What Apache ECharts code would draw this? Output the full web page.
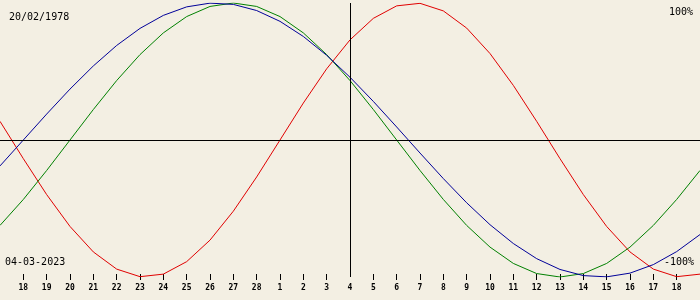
<!DOCTYPE html>
<html><head><meta charset="utf-8">
<script src="https://cdn.jsdelivr.net/npm/echarts@6/dist/echarts.min.js"></script>
<style>html,body{margin:0;padding:0;background:#f3efe3}#c{width:700px;height:300px}</style>
</head><body><div id="c"></div>
<script>
const days = ["17","18","19","20","21","22","23","24","25","26","27","28","1","2","3","4","5","6","7","8","9","10","11","12","13","14","15","16","17","18","19"];
const physical = [0.1362,-0.1362,-0.3984,-0.6311,-0.8170,-0.9423,-0.9977,-0.9791,-0.8879,-0.7308,-0.5196,-0.2698,0,0.2698,0.5196,0.7308,0.8879,0.9791,0.9977,0.9423,0.8170,0.6311,0.3984,0.1362,-0.1362,-0.3984,-0.6311,-0.8170,-0.9423,-0.9977,-0.9791];
const emotional = [-0.6235,-0.4339,-0.2225,0,0.2225,0.4339,0.6235,0.7818,0.9010,0.9749,1,0.9749,0.9010,0.7818,0.6235,0.4339,0.2225,0,-0.2225,-0.4339,-0.6235,-0.7818,-0.9010,-0.9749,-1,-0.9749,-0.9010,-0.7818,-0.6235,-0.4339,-0.2225];
const intellectual = [-0.1893,0,0.1893,0.3717,0.5406,0.6901,0.8146,0.9096,0.9718,0.9989,0.9898,0.9450,0.8660,0.7557,0.6182,0.4582,0.2817,0.0951,-0.0951,-0.2817,-0.4582,-0.6182,-0.7557,-0.8660,-0.9450,-0.9898,-0.9989,-0.9718,-0.9096,-0.8146,-0.6901];
const birthLabel = "20/02/1978";
const dateLabel = "04-03-2023";
const topLabel = "100%";
const bottomLabel = "-100%";
const todayIndex = 15;

const chart = echarts.init(document.getElementById('c'), null, {renderer:'canvas'});
const mono = "'DejaVu Sans Mono', monospace";
const edge = (i) => i !== 0 && i !== days.length - 1;
chart.setOption({
  backgroundColor: '#f3efe3',
  animation: false,
  grid: {left: 0, right: 0, top: 3, bottom: 23},
  xAxis: {
    type: 'category', data: days, boundaryGap: false, offset: -3,
    axisLine: {show: false, onZero: false},
    axisTick: {show: true, length: 6, interval: (i) => edge(i) && i !== todayIndex, lineStyle: {color: '#000', width: 1}},
    axisLabel: {interval: (i) => edge(i), margin: 10, fontFamily: mono, fontSize: 8, fontWeight: 'bold', color: '#000'},
    splitLine: {show: false}
  },
  yAxis: {type: 'value', min: -1, max: 1, show: false},
  graphic: [
    {type: 'text', left: 9, top: 12, style: {text: birthLabel, font: "10px " + mono, fill: '#000'}},
    {type: 'text', right: 7, top: 7, style: {text: topLabel, font: "10px " + mono, fill: '#000'}},
    {type: 'text', left: 5, top: 257, style: {text: dateLabel, font: "10px " + mono, fill: '#000'}},
    {type: 'text', right: 6, top: 257, style: {text: bottomLabel, font: "10px " + mono, fill: '#000'}}
  ],
  series: [
    {type: 'line', data: physical, showSymbol: false, lineStyle: {color: '#e00000', width: 1}, z: 3,
     markLine: {silent: true, symbol: 'none', label: {show: false}, lineStyle: {color: '#000', width: 1, type: 'solid'},
       data: [{yAxis: 0}, {xAxis: todayIndex}]}},
    {type: 'line', data: emotional, showSymbol: false, lineStyle: {color: '#008000', width: 1}, z: 3},
    {type: 'line', data: intellectual, showSymbol: false, lineStyle: {color: '#000099', width: 1}, z: 3}
  ]
});
</script></body></html>
